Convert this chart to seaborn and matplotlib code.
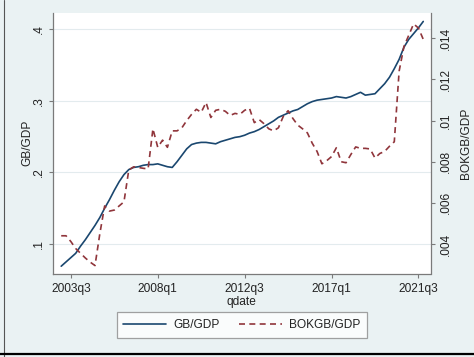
import numpy as np
import pandas as pd
import matplotlib
matplotlib.use("Agg")
import matplotlib.pyplot as plt
from matplotlib.lines import Line2D
import seaborn as sns

# Quarterly index (Stata %tq: 172 = 2003q1 ... 247 = 2021q4)
qdate = list(range(172, 248))

gb_gdp = [
    0.069, 0.075, 0.081, 0.087, 0.097, 0.106, 0.116, 0.126, 0.137, 0.150,
    0.162, 0.175, 0.187, 0.197, 0.204, 0.207, 0.208, 0.210, 0.211, 0.211,
    0.212, 0.210, 0.208, 0.207, 0.215, 0.224, 0.233, 0.239, 0.241, 0.242,
    0.242, 0.241, 0.240, 0.243, 0.245, 0.247, 0.249, 0.250, 0.252, 0.255,
    0.257, 0.260, 0.264, 0.268, 0.272, 0.277, 0.280, 0.283, 0.286, 0.288,
    0.292, 0.296, 0.299, 0.301, 0.302, 0.303, 0.304, 0.306, 0.305, 0.304,
    0.306, 0.309, 0.312, 0.308, 0.309, 0.310, 0.317, 0.324, 0.333, 0.345,
    0.358, 0.375, 0.386, 0.394, 0.402, 0.411,
]

bokgb_gdp = [
    0.00440, 0.00440, 0.00412, 0.00378, 0.00355, 0.00332, 0.00312, 0.00295, 0.00450, 0.00585,
    0.00560, 0.00565, 0.00585, 0.00605, 0.00760, 0.00775, 0.00772, 0.00768, 0.00765, 0.00960,
    0.00870, 0.00905, 0.00870, 0.00950, 0.00950, 0.00965, 0.01000, 0.01030, 0.01055, 0.01040,
    0.01088, 0.01015, 0.01050, 0.01055, 0.01045, 0.01025, 0.01035, 0.01030, 0.01050, 0.01060,
    0.00990, 0.01005, 0.00985, 0.00960, 0.00950, 0.00965, 0.01020, 0.01048, 0.01010, 0.00978,
    0.00960, 0.00940, 0.00890, 0.00850, 0.00790, 0.00805, 0.00825, 0.00868, 0.00800, 0.00795,
    0.00835, 0.00872, 0.00865, 0.00865, 0.00862, 0.00818, 0.00840, 0.00850, 0.00875, 0.00897,
    0.01240, 0.01360, 0.01415, 0.01470, 0.01450, 0.01395,
]

xtick_pos = [174, 192, 210, 228, 246]
xtick_labels = ["2003q3", "2008q1", "2012q3", "2017q1", "2021q3"]
left_ticks = [0.1, 0.2, 0.3, 0.4]
left_labels = [".1", ".2", ".3", ".4"]
right_ticks = [0.004, 0.006, 0.008, 0.010, 0.012, 0.014]
right_labels = [".004", ".006", ".008", ".01", ".012", ".014"]

df = pd.DataFrame({"qdate": qdate, "GB/GDP": gb_gdp, "BOKGB/GDP": bokgb_gdp})

sns.set_theme(style="white")
plt.rcParams["font.family"] = ["Liberation Sans", "DejaVu Sans"]

BG = "#eaf2f3"
NAVY = "#1a476f"
MAROON = "#90353b"
AXC = "#7a7a7a"
FS = 8.6
DASH = (0, (3.6, 2.6))

fig = plt.figure(figsize=(4.74, 3.57), dpi=100, facecolor=BG)
ax = fig.add_axes([53 / 474, 1 - 273.5 / 357, (430.5 - 53) / 474, (273.5 - 13) / 357])
ax.set_facecolor("white")

sns.lineplot(data=df, x="qdate", y="GB/GDP", ax=ax, color=NAVY, lw=1.2)
ax2 = ax.twinx()
sns.lineplot(data=df, x="qdate", y="BOKGB/GDP", ax=ax2, color=MAROON, lw=1.2,
             linestyle=DASH)

ax.set_xlim(170.3, 248.5)
ax.set_ylim(0.0588, 0.4228)
ax2.set_ylim(0.002566, 0.01523)

ax.set_xticks(xtick_pos, xtick_labels)
ax.set_yticks(left_ticks, left_labels)
ax2.set_yticks(right_ticks, right_labels)

for lab in ax.get_yticklabels() + ax2.get_yticklabels():
    lab.set_rotation(90)
    lab.set_va("center")

ax.grid(axis="y", color="#e3ebee", lw=0.8)
ax.set_axisbelow(True)

for a in (ax, ax2):
    a.tick_params(colors=AXC, labelcolor="#222222", labelsize=FS, length=3, width=0.8,
                  direction="out")
    for s in a.spines.values():
        s.set_color(AXC)
        s.set_linewidth(0.9)
    a.spines["top"].set_visible(False)
ax.tick_params(axis="y", pad=2.5, left=True)
ax.tick_params(axis="x", pad=3.8, bottom=True)
ax2.tick_params(axis="y", pad=4, right=True)
ax2.spines["left"].set_visible(False)
ax2.spines["bottom"].set_visible(False)
ax.spines["right"].set_visible(False)

ax.set_xlabel("qdate", fontsize=FS, color="#222222", labelpad=0.6)
ax.set_ylabel("GB/GDP", fontsize=FS, color="#222222")
ax2.set_ylabel("BOKGB/GDP", fontsize=FS, color="#222222")
ax.yaxis.label.set_va("center")
ax2.yaxis.label.set_va("center")
ax.yaxis.set_label_coords((27 - 53) / 377.5, 0.5)
ax2.yaxis.set_label_coords((466 - 53) / 377.5, 0.5)

handles = [Line2D([], [], color=NAVY, lw=1.2),
           Line2D([], [], color=MAROON, lw=1.2, linestyle=DASH)]
leg = fig.legend(handles, ["GB/GDP", "BOKGB/GDP"], ncol=2, fontsize=FS,
                 loc="center", bbox_to_anchor=(242 / 474, 1 - 325 / 357),
                 frameon=True, fancybox=False, handlelength=3.6, columnspacing=1.6,
                 handletextpad=0.6, borderpad=0.55)
leg.get_frame().set_edgecolor("#8a8a8a")
leg.get_frame().set_linewidth(0.9)
leg.get_frame().set_facecolor("white")
for t in leg.get_texts():
    t.set_color("#222222")

# outer frame edges
fig.add_artist(Line2D([4 / 474, 4 / 474], [0, 1], color="#555555", lw=0.8,
                      transform=fig.transFigure))
fig.add_artist(Line2D([0, 1], [1 - 354 / 357, 1 - 354 / 357], color="black", lw=1.6,
                      transform=fig.transFigure))

fig.savefig("out.png", dpi=100, facecolor=BG)
